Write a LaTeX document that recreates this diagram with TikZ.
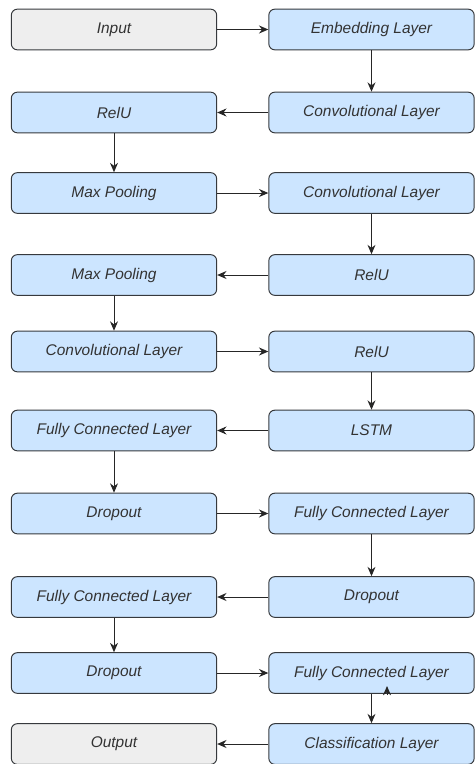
\documentclass[tikz,border=0pt]{standalone}
\usepackage{fontspec}
\setmainfont{Liberation Sans}
\usetikzlibrary{arrows.meta}

\definecolor{boxblue}{RGB}{204,229,255}
\definecolor{boxgray}{RGB}{238,238,238}
\definecolor{boxline}{RGB}{54,57,61}
\definecolor{txtgray}{RGB}{51,51,51}

\tikzset{
  layer/.style={draw=boxline, fill=boxblue, rounded corners=4.5pt, line width=0.75pt,
    minimum width=154pt, minimum height=30.5pt, inner sep=0pt,
    font=\fontsize{11.6}{13}\selectfont\itshape, text=txtgray},
  endbox/.style={layer, fill=boxgray},
  flow/.style={draw=black!85, line width=0.75pt, -{Stealth[length=7pt,width=6pt]}}
}

\begin{document}
\begin{tikzpicture}[x=0.75pt,y=0.75pt,yscale=-1,xscale=1]
\useasboundingbox (0,0) rectangle (475,764);

% Left column
\node [endbox] (inp)   at (114,29.5)  {Input};
\node [layer]  (relua) at (114,112.5) {RelU};
\node [layer]  (poola) at (114,193)   {Max Pooling};
\node [layer]  (poolb) at (114,275)   {Max Pooling};
\node [layer]  (convc) at (114,351.5) {Convolutional Layer};
\node [layer]  (fca)   at (114,430.5) {Fully Connected Layer};
\node [layer]  (dropa) at (114,513.5) {Dropout};
\node [layer]  (fcc)   at (114,597)   {Fully Connected Layer};
\node [layer]  (dropc) at (114,673)   {Dropout};
\node [endbox] (outp)  at (114,744)   {Output};

% Right column
\node [layer] (emb)   at (371.5,29.5)  {Embedding Layer};
\node [layer] (conva) at (371.5,112.5) {Convolutional Layer};
\node [layer] (convb) at (371.5,193)   {Convolutional Layer};
\node [layer] (relub) at (371.5,275)   {RelU};
\node [layer] (reluc) at (371.5,351.5) {RelU};
\node [layer] (lstm)  at (371.5,430.5) {LSTM};
\node [layer] (fcb)   at (371.5,513.5) {Fully Connected Layer};
\node [layer] (dropb) at (371.5,597)   {Dropout};
\node [layer] (fcd)   at (371.5,673)   {Fully Connected Layer};
\node [layer] (cls)   at (371.5,744)   {Classification Layer};

% Connectors
\draw [flow] (inp) -- (emb);
\draw [flow] (emb) -- (conva);
\draw [flow] (conva) -- (relua);
\draw [flow] (relua) -- (poola);
\draw [flow] (poola) -- (convb);
\draw [flow] (convb) -- (relub);
\draw [flow] (relub) -- (poolb);
\draw [flow] (poolb) -- (convc);
\draw [flow] (convc) -- (reluc);
\draw [flow] (reluc) -- (lstm);
\draw [flow] (lstm) -- (fca);
\draw [flow] (fca) -- (dropa);
\draw [flow] (dropa) -- (fcb);
\draw [flow] (fcb) -- (dropb);
\draw [flow] (dropb) -- (fcc);
\draw [flow] (fcc) -- (dropc);
\draw [flow] (dropc) -- (fcd);
\draw [flow] (fcd) -- (cls);
\draw [flow] (cls) -- (outp);

% stray tip under fcd
\coordinate (tipa) at (387,695);
\draw [flow] (tipa) -- ++(0,-9);

\end{tikzpicture}
\end{document}
